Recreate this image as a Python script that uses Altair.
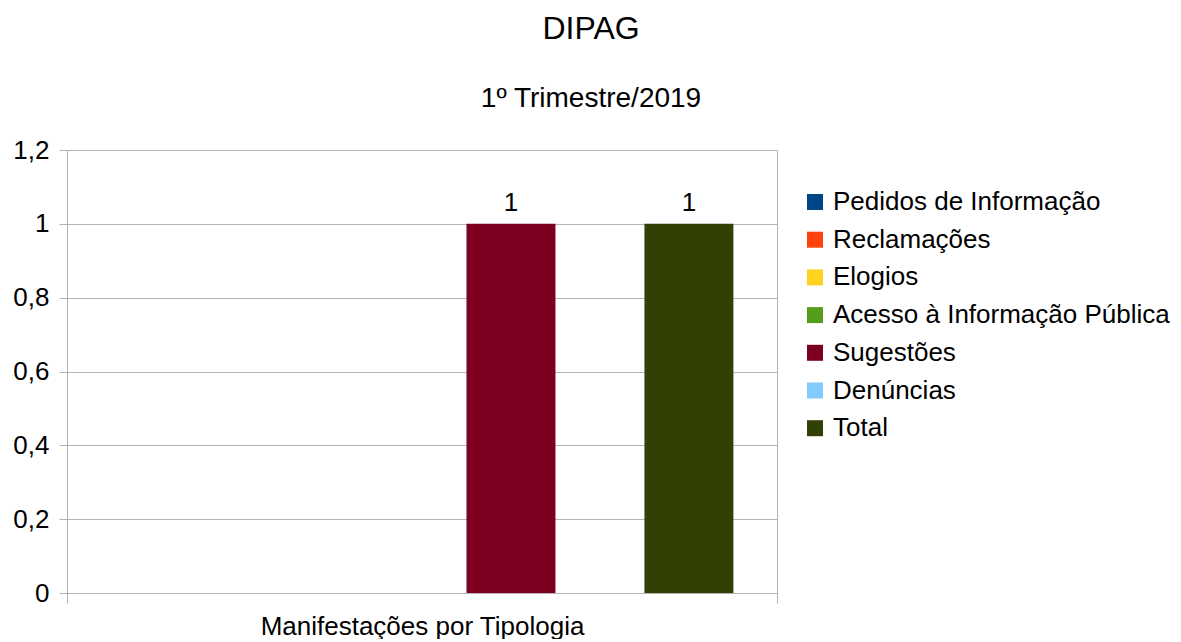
import altair as alt
import pandas as pd

category = ["Manifestações por Tipologia"]
series = ["Pedidos de Informação", "Reclamações", "Elogios",
          "Acesso à Informação Pública", "Sugestões", "Denúncias", "Total"]
values = [0, 0, 0, 0, 1, 0, 1]
colors = ["#004586", "#ff420e", "#ffd320", "#579d1c", "#7e0021", "#83caff", "#314004"]
y_ticks = [0, 0.2, 0.4, 0.6, 0.8, 1.0, 1.2]

df = pd.DataFrame({
    "cat": category * len(series),
    "serie": series,
    "valor": values,
})

FONT = "Liberation Sans"
GRID = "#b3b3b3"

x_enc = alt.X("cat:N", title=None,
              scale=alt.Scale(paddingInner=0, paddingOuter=0),
              axis=alt.Axis(labelAngle=0, labelFontSize=26, labelFont=FONT,
                            labelColor="#000000", labelPadding=10, labelLimit=600,
                            tickBand="extent", tickSize=10, tickColor=GRID,
                            grid=True, gridColor=GRID, domainColor=GRID))
xoff_enc = alt.XOffset("serie:N", sort=series,
                       scale=alt.Scale(paddingInner=0, paddingOuter=0.49))
y_enc = alt.Y("valor:Q", title=None,
              scale=alt.Scale(domain=[0, 1.2], nice=False),
              axis=alt.Axis(values=y_ticks, format=".1~f",
                            labelExpr="replace(datum.label, '.', ',')",
                            labelFontSize=26, labelFont=FONT, labelColor="#000000",
                            labelPadding=10, tickSize=8, tickColor=GRID,
                            gridColor=GRID, domainColor=GRID,
                            minExtent=55, maxExtent=55))

bars = alt.Chart(df).mark_bar().encode(
    x=x_enc,
    xOffset=xoff_enc,
    y=y_enc,
    color=alt.Color("serie:N", sort=series,
                    scale=alt.Scale(domain=series, range=colors),
                    legend=alt.Legend(title=None, orient="none", legendX=735, legendY=39,
                                      symbolType="square", symbolSize=256,
                                      symbolStrokeWidth=0, labelFontSize=26,
                                      labelFont=FONT, labelColor="#000000",
                                      labelOffset=5, rowPadding=11.7, padding=0,
                                      labelLimit=400)),
)

labels = alt.Chart(df).transform_filter("datum.valor > 0").mark_text(
    baseline="alphabetic", dy=-13, fontSize=26, font=FONT, color="#000000"
).encode(
    x=alt.X("cat:N"),
    xOffset=alt.XOffset("serie:N", sort=series),
    y=alt.Y("valor:Q"),
    text=alt.Text("valor:Q", format="d"),
)

chart = alt.layer(bars, labels).properties(
    width=710, height=443,
    padding={"left": 4, "top": 5, "right": 0, "bottom": 0},
    title=alt.TitleParams(text="DIPAG", subtitle="1º Trimestre/2019",
                          fontSize=32, subtitleFontSize=28, font=FONT,
                          subtitleFont=FONT, fontWeight="normal",
                          color="#000000", subtitleColor="#000000",
                          anchor="middle", frame="bounds",
                          subtitlePadding=39, offset=23),
).configure_view(stroke=None).configure_axis(grid=True)

chart.save("out.html", embed_options={"renderer": "svg", "actions": False})
